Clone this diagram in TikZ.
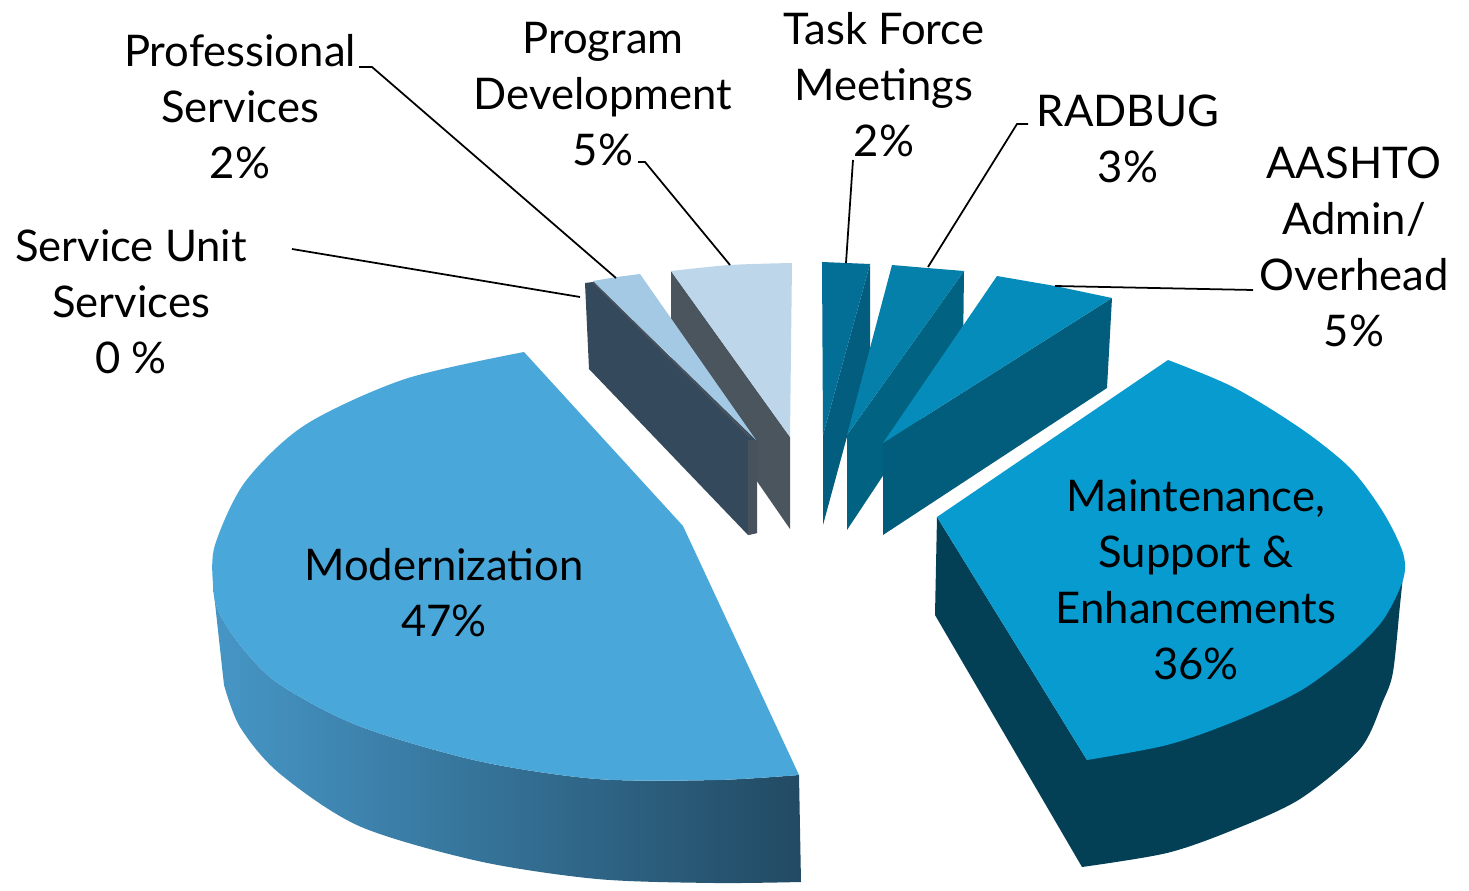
\documentclass[tikz,border=0pt]{standalone}
\usepackage{fontspec}
\setmainfont{Lato}

\definecolor{modTop}{RGB}{74,167,218}
\definecolor{modSideL}{RGB}{70,150,198}
\definecolor{modSideR}{RGB}{34,74,99}
\definecolor{mainTop}{RGB}{7,155,207}
\definecolor{mainSide}{RGB}{3,63,85}
\definecolor{tfTop}{RGB}{3,110,150}
\definecolor{tfSide}{RGB}{2,93,126}
\definecolor{rbTop}{RGB}{5,128,171}
\definecolor{rbSide}{RGB}{2,98,130}
\definecolor{aaTop}{RGB}{6,140,186}
\definecolor{aaSide}{RGB}{2,93,125}
\definecolor{pdTop}{RGB}{190,214,234}
\definecolor{pdSide}{RGB}{75,85,94}
\definecolor{psTop}{RGB}{163,201,229}
\definecolor{psSide}{RGB}{52,73,92}
\definecolor{psInner}{RGB}{72,82,92}

\begin{document}
\begin{tikzpicture}[x=0.01cm,y=-0.01cm,
                    lbl/.style={align=center,anchor=north,inner sep=0pt,
                                font=\fontsize{12.4pt}{15.9pt}\selectfont},
                    leader/.style={draw=black,line width=0.5pt}]

  \useasboundingbox (0,0) rectangle (1469,891);

  % small slices, right group
  \fill[tfSide] (870,264) -- (823,435) -- (823,525) -- (870,352) -- cycle;
  \fill[tfTop]  (822,262) -- (870,264) -- (823,435) -- cycle;
  \fill[rbSide] (964,271) -- (847,435) -- (847,530) -- (963,355) -- cycle;
  \fill[rbTop]  (892,265) -- (927,268) -- (964,271) -- (847,435) -- cycle;
  \fill[aaSide] (1112,298) -- (883,443) -- (883,535) -- (1107,388) -- cycle;
  \fill[aaTop]  (997,276) -- (1055,286) -- (1112,298) -- (883,443) -- cycle;

  % small slices, left group
  \fill[pdSide] (671,271) -- (790,437) -- (790,529) -- (671,357) -- cycle;
  \fill[pdTop]  (671,271) -- plot[smooth] coordinates {(671,271) (730,265) (792,263)}
                -- (790,437) -- cycle;
  \fill[psSide] (585,283) -- (593,282) -- (756,440) -- (757,533) -- (748,535)
                -- (589,369) -- cycle;
  \fill[psInner] (748,440) -- (757,440) -- (757,533) -- (748,535) -- cycle;
  \draw[psInner,line width=0.6pt] (593,282) -- (750,437);
  \fill[psTop]  (593,281) -- (617,277) -- (640,274) -- (756,440) -- cycle;

  % Modernization
  \shade[left color=modSideL,right color=modSideR]
    plot[smooth] coordinates {(213,585) (218,610) (240,645) (279,684) (359,726)
                              (478,761) (597,779) (717,780) (799,775)}
    -- plot[smooth] coordinates {(801,882) (714,883) (597,879) (478,861)
                                 (359,826) (279,773) (240,727) (224,685)}
    -- cycle;
  \fill[modTop] (683,526) -- plot[smooth] coordinates {(524,352) (405,379) (305,425)
                (245,482) (215,545) (213,585) (218,610) (240,645) (279,684) (359,726)
                (478,761) (597,779) (717,780) (799,775)} -- cycle;

  % Maintenance
  \fill[mainSide] (937,517) -- (935,615)
    -- plot[smooth] coordinates {(1082,867) (1167,853) (1233,830) (1300,799)
                                 (1360,749) (1383,701) (1393,672) (1400,605) (1404,566)}
    -- (1087,760) -- cycle;
  \fill[mainTop] (937,517) -- plot[smooth] coordinates {(1168,360) (1233,387)
                 (1300,428) (1350,468) (1383,512) (1403,553) (1403,580) (1383,620)
                 (1350,654) (1300,691) (1233,722) (1167,745) (1087,760)} -- cycle;

  % labels
  \node[lbl] (lMod)  at (444,548)  {Modernization\\47\%};
  \node[lbl] (lMain) at (1196,479) {Maintenance,\\Support \&\\Enhancements\\36\%};
  \node[lbl] (lSus)  at (131,229)  {Service Unit\\Services\\0 \%};
  \node[lbl] (lProf) at (240,34)   {Professional\\Services\\2\%};
  \node[lbl] (lPd)   at (603,22)   {Program\\Development\\5\%};
  \node[lbl] (lTf)   at (884,12)   {Task Force\\Meetings\\2\%};
  \node[lbl] (lRb)   at (1128,94)  {RADBUG\\3\%};
  \node[lbl] (lAa)   at (1354,146) {AASHTO\\Admin/\\Overhead\\5\%};

  % leader lines
  \coordinate (kSus)  at (292,249);  \coordinate (pSus)  at (580,297);
  \coordinate (kProf) at (359,67);   \coordinate (pProf) at (616,278);
  \coordinate (kPd)   at (638,162);  \coordinate (pPd)   at (730,265);
  \coordinate (kTf)   at (853,160);  \coordinate (pTf)   at (846,263);
  \coordinate (kRb)   at (1028,124); \coordinate (pRb)   at (928,267);
  \coordinate (kAa)   at (1253,290); \coordinate (pAa)   at (1055,286);

  \draw[leader] (kSus) -- (pSus);
  \draw[leader] (kProf) -- ++(13,0) -- (pProf);
  \draw[leader] (kPd) -- ++(7,0) -- (pPd);
  \draw[leader] (kTf) -- (pTf);
  \draw[leader] (kRb) -- ++(-11,0) -- (pRb);
  \draw[leader] (kAa) -- (pAa);
\end{tikzpicture}
\end{document}
